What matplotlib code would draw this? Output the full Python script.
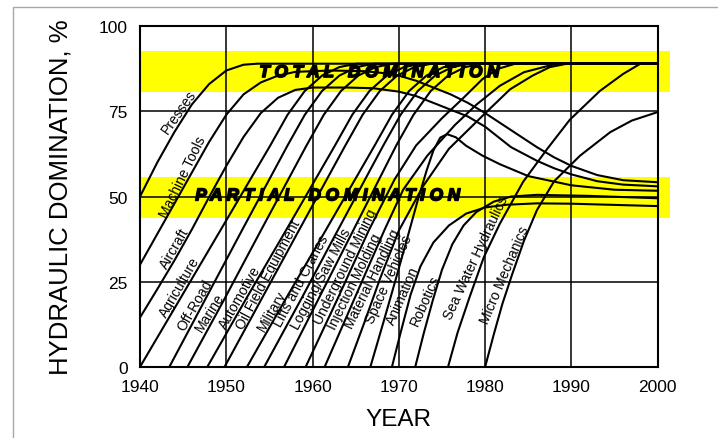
import matplotlib.pyplot as plt
import matplotlib.patheffects as pe
from matplotlib.patches import Rectangle

plt.rcParams['font.family'] = ['Liberation Sans', 'DejaVu Sans']

year_ticks = [1940, 1950, 1960, 1970, 1980, 1990, 2000]
pct_ticks = [0, 25, 50, 75, 100]

total_band = [80.7, 92.6]
partial_band = [43.7, 55.6]

# curves (year, % hydraulic)
presses_x = [1940, 1942, 1944, 1946, 1948, 1950, 1952, 1953.6, 2000]
presses_y = [50, 60, 69, 77, 83, 87, 88.7, 89, 89]

machine_x = [1940, 1942, 1944, 1946, 1948, 1950, 1952, 1954, 1956, 1958, 1962, 1966, 1968,
             1970, 1972, 1974, 1976, 1978, 1980, 1983, 1986, 1988, 1990, 1993, 1996, 2000]
machine_y = [30, 39, 48, 57, 66, 74, 80, 83.5, 85.5, 86.6, 87, 86.8, 86.3,
             85.5, 84, 82, 80, 77.5, 74.5, 69.5, 64.5, 61.5, 59, 56.3, 54.8, 54.2]

aircraft_x = [1940, 1942, 1944, 1946, 1948, 1950, 1952, 1954, 1956, 1958, 1960, 1964, 1967,
              1970, 1972, 1974, 1976, 1978, 1980, 1983, 1986, 1988, 1990, 1993, 1996, 2000]
aircraft_y = [14.5, 22.8, 31.3, 40.3, 49.8, 59, 67.5, 74.5, 79, 81.3, 82, 82, 81.8,
              80.8, 79.5, 77.5, 75.5, 73.5, 70.5, 64.5, 60.5, 58.3, 56.5, 54.5, 53.5, 53]

agri_x = [1940, 1944.65, 1949.3, 1955.1, 1957.1, 1959.1, 1961.1, 1963.1, 1965.1, 2000]
agri_y = [0, 20, 40, 65, 74, 81, 85.5, 88, 89, 89]

offroad_x = [1943.4, 1947.6, 1951.8, 1957.1, 1959.1, 1961.1, 1963.1, 1965.1, 1967.1, 2000]
offroad_y = [0, 20, 40, 65, 74, 81, 85.5, 88, 89, 89]

marine_x = [1945.5, 1949.8, 1954, 1959.3, 1961.3, 1963.3, 1965.3, 1967.3, 1969.3, 2000]
marine_y = [0, 20, 40, 65, 74, 81, 85.5, 88, 89, 89]

auto_x = [1947.8, 1952.3, 1956.9, 1962.6, 1964.6, 1966.6, 1968.6, 1970.6, 1972.6, 2000]
auto_y = [0, 20, 40, 65, 74, 81, 85.5, 88, 89, 89]

oil_x = [1949.8, 1954.1, 1958.4, 1963.8, 1965.8, 1967.8, 1969.8, 1971.8, 1973.8, 2000]
oil_y = [0, 20, 40, 65, 74, 81, 85.5, 88, 89, 89]

military_x = [1952.4, 1956.9, 1961.5, 1967.2, 1969.2, 1971.2, 1973.2, 1975.2, 1977.2, 2000]
military_y = [0, 20, 40, 65, 74, 81, 85.5, 88, 89, 89]

lifts_x = [1954.4, 1958.7, 1962.9, 1968.2, 1970.2, 1972.2, 1974.2, 1976.2, 1978.2, 2000]
lifts_y = [0, 20, 40, 65, 74, 81, 85.5, 88, 89, 89]

logging_x = [1956.7, 1960.7, 1964.7, 1969.7, 1971.7, 1973.7, 1975.7, 1977.7, 1979.7, 2000]
logging_y = [0, 20, 40, 65, 74, 81, 85.5, 88, 89, 89]

mining_x = [1959.2, 1962.9, 1966.5, 1969.5, 1972, 1975, 1977.5, 1979.7, 1981.5, 1983.5, 2000]
mining_y = [0, 20, 40, 55, 65, 73, 79, 84.5, 87.5, 89, 89]

molding_x = [1961.4, 1964.85, 1968.3, 1970.5, 1973.3, 1976.5, 1979, 1981.7, 1984.5, 1988.3, 2000]
molding_y = [0, 20, 40, 52, 62, 71, 77, 82.5, 86.5, 89, 89]

handling_x = [1964.1, 1966, 1967.85, 1970, 1972.8, 1975.8, 1979.7, 1982.9, 1985.5, 1987.5,
              1989.5, 2000]
handling_y = [0, 13, 26.1, 40, 53, 64, 73.7, 81.5, 85.5, 88, 89, 89]

space_x = [1966.7, 1968.2, 1969.65, 1971, 1972.2, 1973.2, 1974, 1974.8, 1975.6, 1976.6, 1977.8,
           1979.7, 1981.7, 1985, 1990, 1995, 2000]
space_y = [0, 13, 25.8, 38, 49, 57.5, 63.5, 67.3, 68.3, 67.4, 64.9,
           62, 59.5, 56, 53.3, 52, 51.7]

animation_x = [1969.2, 1970.2, 1971.35, 1972.5, 1974, 1975.8, 1977.8, 1980, 1982.5, 1986, 1990, 2000]
animation_y = [0, 10, 21.1, 29.5, 36.5, 41.5, 45, 46.8, 47.6, 48, 47.9, 47.2]

robotics_x = [1971.9, 1972.9, 1973.95, 1975, 1976.2, 1977.5, 1979, 1981, 1983, 1986, 1992, 2000]
robotics_y = [0, 10, 19.7, 28.5, 36, 41.5, 45.5, 48.5, 50, 50.5, 50.2, 49.5]

seawater_x = [1975.7, 1976.8, 1978.2, 1979.85, 1981.7, 1984.4, 1987.2, 1989.8, 1993.3, 1996,
              1998, 2000]
seawater_y = [0, 10, 20.5, 32.2, 42, 54.3, 64, 72.5, 81, 86, 89, 89]

micro_x = [1980, 1981, 1982, 1983.15, 1984.5, 1986, 1988, 1991, 1994.5, 1997, 2000]
micro_y = [0, 9.5, 18.5, 27.3, 37, 46, 54.5, 62, 68.9, 72.3, 74.8]

curves = [(presses_x, presses_y), (machine_x, machine_y), (aircraft_x, aircraft_y),
          (agri_x, agri_y), (offroad_x, offroad_y), (marine_x, marine_y), (auto_x, auto_y),
          (oil_x, oil_y), (military_x, military_y), (lifts_x, lifts_y), (logging_x, logging_y),
          (mining_x, mining_y), (molding_x, molding_y), (handling_x, handling_y),
          (space_x, space_y), (animation_x, animation_y), (robotics_x, robotics_y),
          (seawater_x, seawater_y), (micro_x, micro_y)]

labels = ["Presses", "Machine Tools", "Aircraft", "Agriculture", "Off-Road", "Marine",
          "Automotive", "Oil Field Equipment", "Military", "Lifts and Cranes",
          "Logging/Saw Mills", "Underground Mining", "Injection Molding",
          "Material Handling", "Space Vehicles", "Animation", "Robotics",
          "Sea Water Hydraulics", "Micro Mechanics"]

fig = plt.figure(figsize=(7.18, 4.39), dpi=100)
ax = fig.add_axes([0.195, 0.162, 0.721, 0.776])

# grey frame round the picture
fig.patches.append(Rectangle((13 / 718, -0.2), 2, 1 - 8 / 439 + 0.2, transform=fig.transFigure,
                             fill=False, edgecolor='#a8a8a8', lw=1))

for band in (total_band, partial_band):
    ax.axhspan(band[0], band[1], xmin=0, xmax=1.024, color='#ffff00', lw=0, zorder=1,
               clip_on=False)

for gx in year_ticks:
    ax.axvline(gx, color='black', lw=1.1, zorder=2)
for gy in pct_ticks:
    ax.axhline(gy, color='black', lw=1.1, zorder=2)

for cx, cy in curves:
    ax.plot(cx, cy, color='black', lw=1.5, zorder=3, solid_capstyle='round',
            solid_joinstyle='round')

# curve labels (centre year, centre %, angle)
label_pos = [(1944.5, 75, 55), (1945.0, 56, 64), (1944, 35, 60), (1944.6, 23.6, 60),
             (1946.4, 18.3, 60), (1948.1, 16.3, 58), (1951.6, 20.5, 60), (1954.9, 27.3, 62),
             (1955.3, 16.5, 60), (1958.7, 25.3, 62), (1961, 26, 62), (1963.8, 29.7, 64),
             (1964.9, 25.3, 64), (1967, 26, 64), (1968.8, 25.8, 66), (1970.5, 21, 66),
             (1973.1, 19.7, 66), (1979, 32.2, 65), (1982.3, 27.3, 67)]
for name, (lx, ly, rot) in zip(labels, label_pos):
    ax.text(lx, ly, name, rotation=rot, ha='center', va='center', fontsize=10,
            rotation_mode='anchor', zorder=4)

heavy = [pe.withStroke(linewidth=1.2, foreground='black')]
ax.text(1967.8, 86.4, "T O T A L   D O M I N A T I O N", fontsize=12.3, fontweight='bold',
        fontstyle='italic', ha='center', va='center', zorder=4, path_effects=heavy)
ax.text(1961.8, 50.2, "P A R T I A L   D O M I N A T I O N", fontsize=12.3, fontweight='bold',
        fontstyle='italic', ha='center', va='center', zorder=4, path_effects=heavy)

ax.set_xlim(1940, 2000)
ax.set_ylim(0, 100)
ax.set_xticks(year_ticks)
ax.set_yticks(pct_ticks)
ax.tick_params(labelsize=12.5, length=0, pad=9)
for s in ax.spines.values():
    s.set_linewidth(1.5)
    s.set_zorder(5)
ax.set_xlabel("YEAR", fontsize=17.5, labelpad=10)
ax.set_ylabel("HYDRAULIC DOMINATION, %", fontsize=18.5, labelpad=19)

fig.savefig("out.png", dpi=100)
